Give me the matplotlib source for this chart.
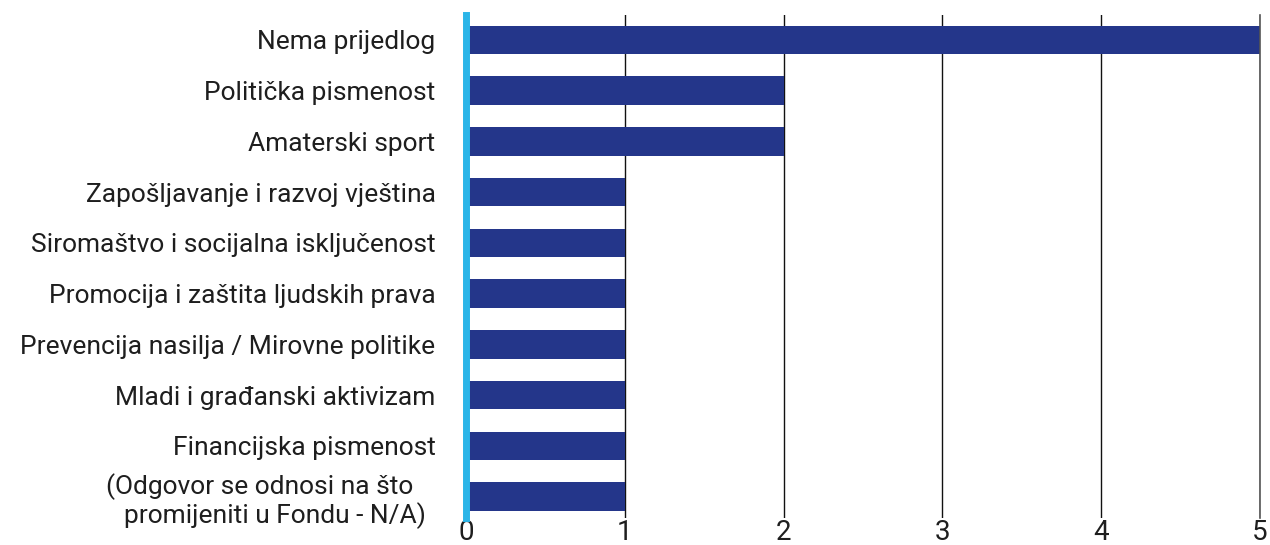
import matplotlib
matplotlib.use('Agg')
from matplotlib import pyplot as plt
import numpy as np

CATEGORIES = [
    'Nema prijedlog',
    'Politička pismenost',
    'Amaterski sport',
    'Zapošljavanje i razvoj vještina',
    'Siromaštvo i socijalna isključenost',
    'Promocija i zaštita ljudskih prava',
    'Prevencija nasilja / Mirovne politike',
    'Mladi i građanski aktivizam',
    'Financijska pismenost',
    '(Odgovor se odnosi na što  \npromijeniti u Fondu - N/A)',
]
VALUES = [5, 2, 2, 1, 1, 1, 1, 1, 1, 1]
TICKS = [0, 1, 2, 3, 4, 5]

BAR_COLOR = '#24368a'
AXIS_COLOR = '#2bb5e8'
TEXT_COLOR = '#1e1e1e'


def main():
    plt.rcParams['font.family'] = ['Roboto', 'DejaVu Sans']
    fig = plt.figure(figsize=(12.7, 5.45), dpi=100)
    ax = fig.add_axes([0.367, 0.0495, 0.625, 0.923])

    y = np.arange(len(CATEGORIES))
    ax.barh(y, VALUES, height=0.56, color=BAR_COLOR, zorder=2)

    ax.set_xlim(0, 5)
    ax.set_ylim(len(CATEGORIES) - 0.58, -0.49)

    ax.set_xticks(TICKS)
    ax.set_xticklabels([str(t) for t in TICKS], fontsize=20, color=TEXT_COLOR)
    ax.set_yticks(y)
    ax.set_yticklabels(CATEGORIES, fontsize=19, color=TEXT_COLOR, linespacing=1.12)
    ax.tick_params(axis='both', length=0)
    ax.tick_params(axis='y', pad=22)
    ax.tick_params(axis='x', pad=1)
    # the two-line label sits a bit lower and further in, as in the source
    last = ax.get_yticklabels()[-1]
    last.set_x(-0.012)

    ax.grid(axis='x', color='#111111', linewidth=1.0, zorder=1)
    ax.grid(axis='y', visible=False)

    for side in ['top', 'bottom']:
        ax.spines[side].set_visible(False)
    ax.spines['right'].set_color('#555555')
    ax.spines['right'].set_linewidth(1.2)
    ax.spines['left'].set_color(AXIS_COLOR)
    ax.spines['left'].set_linewidth(5)
    ax.spines['left'].set_zorder(3)

    fig.savefig('out.png', dpi=100)


if __name__ == '__main__':
    main()
